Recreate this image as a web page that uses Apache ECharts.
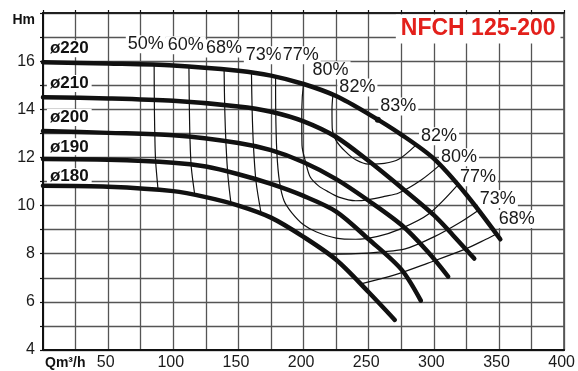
<!DOCTYPE html>
<html>
<head>
<meta charset="utf-8">
<script src="https://cdn.jsdelivr.net/npm/echarts@6/dist/echarts.min.js"></script>
<style>
html,body{margin:0;padding:0;background:#fff;}
#c{width:578px;height:371px;}
</style>
</head>
<body>
<div id="c"></div>
<script>
// ---- axis ticks ----
const xTickLabels = [50, 100, 150, 200, 250, 300, 350, 400];
const yTickLabels = [4, 6, 8, 10, 12, 14, 16];

// ---- impeller diameter curves (Q m3/h, H m) ----
const d220Q = [0, 50, 100, 150, 175, 200, 225, 250, 275, 300, 325, 351];
const d220H = [15.95, 15.9, 15.82, 15.6, 15.4, 15.05, 14.55, 13.8, 12.95, 11.95, 10.45, 8.6];
const d210Q = [0, 50, 100, 150, 175, 200, 225, 250, 275, 300, 315, 331];
const d210H = [14.5, 14.45, 14.35, 14.12, 13.9, 13.5, 12.85, 11.85, 10.75, 9.6, 8.75, 7.8];
const d200Q = [0, 50, 100, 150, 175, 200, 225, 250, 275, 295, 311];
const d200H = [13.1, 13.02, 12.92, 12.6, 12.3, 11.8, 11.1, 10.2, 9.2, 8.1, 7.05];
const d190Q = [0, 50, 100, 125, 150, 175, 200, 225, 250, 275, 290];
const d190H = [11.93, 11.9, 11.78, 11.62, 11.3, 10.9, 10.4, 9.75, 8.6, 7.35, 6.05];
const d180Q = [0, 50, 100, 125, 150, 175, 200, 225, 250, 270];
const d180H = [10.82, 10.78, 10.6, 10.35, 10.0, 9.5, 8.7, 7.75, 6.4, 5.25];
const diamNames = ['ø220', 'ø210', 'ø200', 'ø190', 'ø180'];
const diamLabelH = [16.52, 15.07, 13.66, 12.44, 11.2];

// ---- iso-efficiency curves ----
const e50Q = [85.3, 85.5, 86, 86.5, 88.3];
const e50H = [15.88, 14, 12.5, 11.8, 10.66];
const e60Q = [112, 112.3, 112.8, 113.8, 116.5];
const e60H = [15.78, 14.2, 12.8, 11.6, 10.44];
const e68Q = [139, 139.5, 140.5, 142, 144.3];
const e68H = [15.65, 14, 12.5, 11.2, 10.08];
const e73Q = [160, 160.5, 161.5, 163.5, 167.5];
const e73H = [15.5, 14, 12.5, 11, 9.65];
const e77Q = [178.5, 178.6, 179.5, 181.5, 185, 191, 200, 210, 225, 240, 257, 273, 296, 319];
const e77H = [15.35, 14, 12.2, 11, 10.2, 9.7, 9.2, 8.9, 8.65, 8.6, 8.72, 9.0, 9.65, 10.9];
const e80Q = [200, 199, 198.6, 198.8, 201.6, 205, 211.5, 218, 227, 240, 250, 262, 273, 290, 305];
const e80H = [15.05, 14.5, 13.7, 12.5, 11.8, 11.2, 10.82, 10.6, 10.35, 10.2, 10.25, 10.38, 10.52, 11.05, 11.7];
const e82Q = [222.5, 221.8, 222, 225, 232, 240, 250, 262, 273, 286];
const e82H = [14.6, 14, 13.2, 12.7, 12.25, 11.9, 11.72, 11.75, 11.92, 12.5];
const e73rQ = [219, 240, 260, 278, 300, 320, 334];
const e73rH = [7.98, 8.0, 8.08, 8.2, 8.7, 9.3, 9.8];
const e68rQ = [244, 270, 295, 324, 340, 348];
const e68rH = [6.75, 7.12, 7.6, 8.19, 8.6, 8.82];

// ---- best efficiency point ----
const bepQ = [257];
const bepH = [13.57];

// ---- efficiency labels ----
const effLabelText = ['50%', '60%', '68%', '73%', '77%', '80%', '82%', '83%', '82%', '80%', '77%', '73%', '68%'];
const effLabelQ = [78.9, 109.5, 138.9, 169.5, 197.8, 220.7, 241.3, 272.7, 304, 319.3, 333.8, 349.1, 363.6];
const effLabelH = [16.7, 16.66, 16.53, 16.24, 16.24, 15.62, 14.91, 14.12, 12.88, 12.01, 11.18, 10.27, 9.44];

const titleText = 'NFCH 125-200';
const titleQ = 334;
const titleH = 17.34;

const FONT = '"Liberation Sans", Arial, sans-serif';
const zip = (q, h) => q.map((v, i) => [v, h[i]]);

const diamCurves = [[d220Q, d220H], [d210Q, d210H], [d200Q, d200H], [d190Q, d190H], [d180Q, d180H]];
const effCurves = [[e50Q, e50H], [e60Q, e60H], [e68Q, e68H], [e73Q, e73H], [e77Q, e77H],
                   [e80Q, e80H], [e82Q, e82H], [e73rQ, e73rH], [e68rQ, e68rH]];

const series = [];
diamCurves.forEach((c, i) => {
  series.push({
    type: 'line', name: diamNames[i], data: zip(c[0], c[1]), smooth: 0.3, symbol: 'none',
    lineStyle: { color: '#111', width: 4.5, cap: 'round' }, z: 5, silent: true
  });
});
effCurves.forEach((c) => {
  series.push({
    type: 'line', data: zip(c[0], c[1]), smooth: 0.3, symbol: 'none',
    lineStyle: { color: '#111', width: 1.2 }, z: 4, silent: true
  });
});
series.push({
  type: 'scatter', data: zip(bepQ, bepH), symbolSize: 6, itemStyle: { color: '#111', opacity: 1 }, z: 6
});
const labelItem = { opacity: 1, color: 'transparent' };
series.push({
  type: 'scatter', symbolSize: 0, z: 3, itemStyle: labelItem,
  data: effLabelText.map((t, i) => ({ name: t, value: [effLabelQ[i], effLabelH[i]] })),
  label: {
    show: true, position: 'inside', formatter: p => p.name, fontFamily: FONT, fontSize: 18,
    color: '#1a1a1a', backgroundColor: '#fff', padding: [0, 2]
  }
});
series.push({
  type: 'scatter', symbolSize: 0, z: 3, itemStyle: labelItem,
  data: diamNames.map((t, i) => ({ name: t, value: [3, diamLabelH[i]] })),
  label: {
    show: true, position: 'right', distance: 0, formatter: p => p.name, fontFamily: FONT,
    fontSize: 17, fontWeight: 'bold', color: '#111', backgroundColor: '#fff', padding: [0, 3]
  }
});
series.push({
  type: 'scatter', symbolSize: 0, z: 3, itemStyle: labelItem,
  data: [{ name: titleText, value: [titleQ, titleH] }],
  label: {
    show: true, position: 'inside', formatter: p => p.name, fontFamily: FONT,
    fontSize: 23, fontWeight: 'bold', color: '#e3201b', backgroundColor: '#fff', padding: [3, 5, 3, 5]
  }
});

const chart = echarts.init(document.getElementById('c'), null, { renderer: 'canvas' });
chart.setOption({
  animation: false,
  backgroundColor: '#fff',
  grid: { left: 43, right: 13, top: 13, bottom: 20, show: true, borderColor: '#111', borderWidth: 1.5 },
  graphic: [{
    type: 'text', left: 45, top: 356,
    style: { text: 'Qm³/h', font: 'bold 14px ' + FONT, fill: '#111' }
  }],
  xAxis: [{
    type: 'value', min: 0, max: 400, interval: 25,
    axisLine: { show: true, onZero: false, lineStyle: { color: '#111', width: 2 } },
    axisTick: { show: false },
    splitLine: { show: true, lineStyle: { color: '#555', width: 1.3 } },
    axisLabel: {
      formatter: v => xTickLabels.includes(v) ? String(v) : '',
      fontFamily: FONT, fontSize: 16, color: '#1a1a1a', margin: 5, padding: [0, 5, 0, 0]
    }
  }, {
    type: 'value', position: 'top', min: 0, max: 400, interval: 25,
    axisLine: { show: true, lineStyle: { color: '#111', width: 1.5 } },
    axisTick: { show: true, length: 3, lineStyle: { color: '#111', width: 1.2 } },
    axisLabel: { show: false }, splitLine: { show: false }
  }],
  yAxis: {
    type: 'value', min: 4, max: 18, interval: 1,
    name: 'Hm', nameLocation: 'end', nameGap: 0,
    nameTextStyle: { fontFamily: FONT, fontSize: 14, fontWeight: 'bold', color: '#111',
                     align: 'right', verticalAlign: 'top', padding: [0, 8, 0, 0] },
    axisLine: { show: true, lineStyle: { color: '#111', width: 2 } },
    axisTick: { show: true, length: 3, lineStyle: { color: '#111', width: 1.2 } },
    splitLine: { show: true, lineStyle: { color: '#555', width: 1.3 } },
    axisLabel: {
      formatter: v => yTickLabels.includes(v) ? String(v) : '',
      fontFamily: FONT, fontSize: 16, color: '#1a1a1a', margin: 8
    }
  },
  series: series
});
</script>
</body>
</html>
